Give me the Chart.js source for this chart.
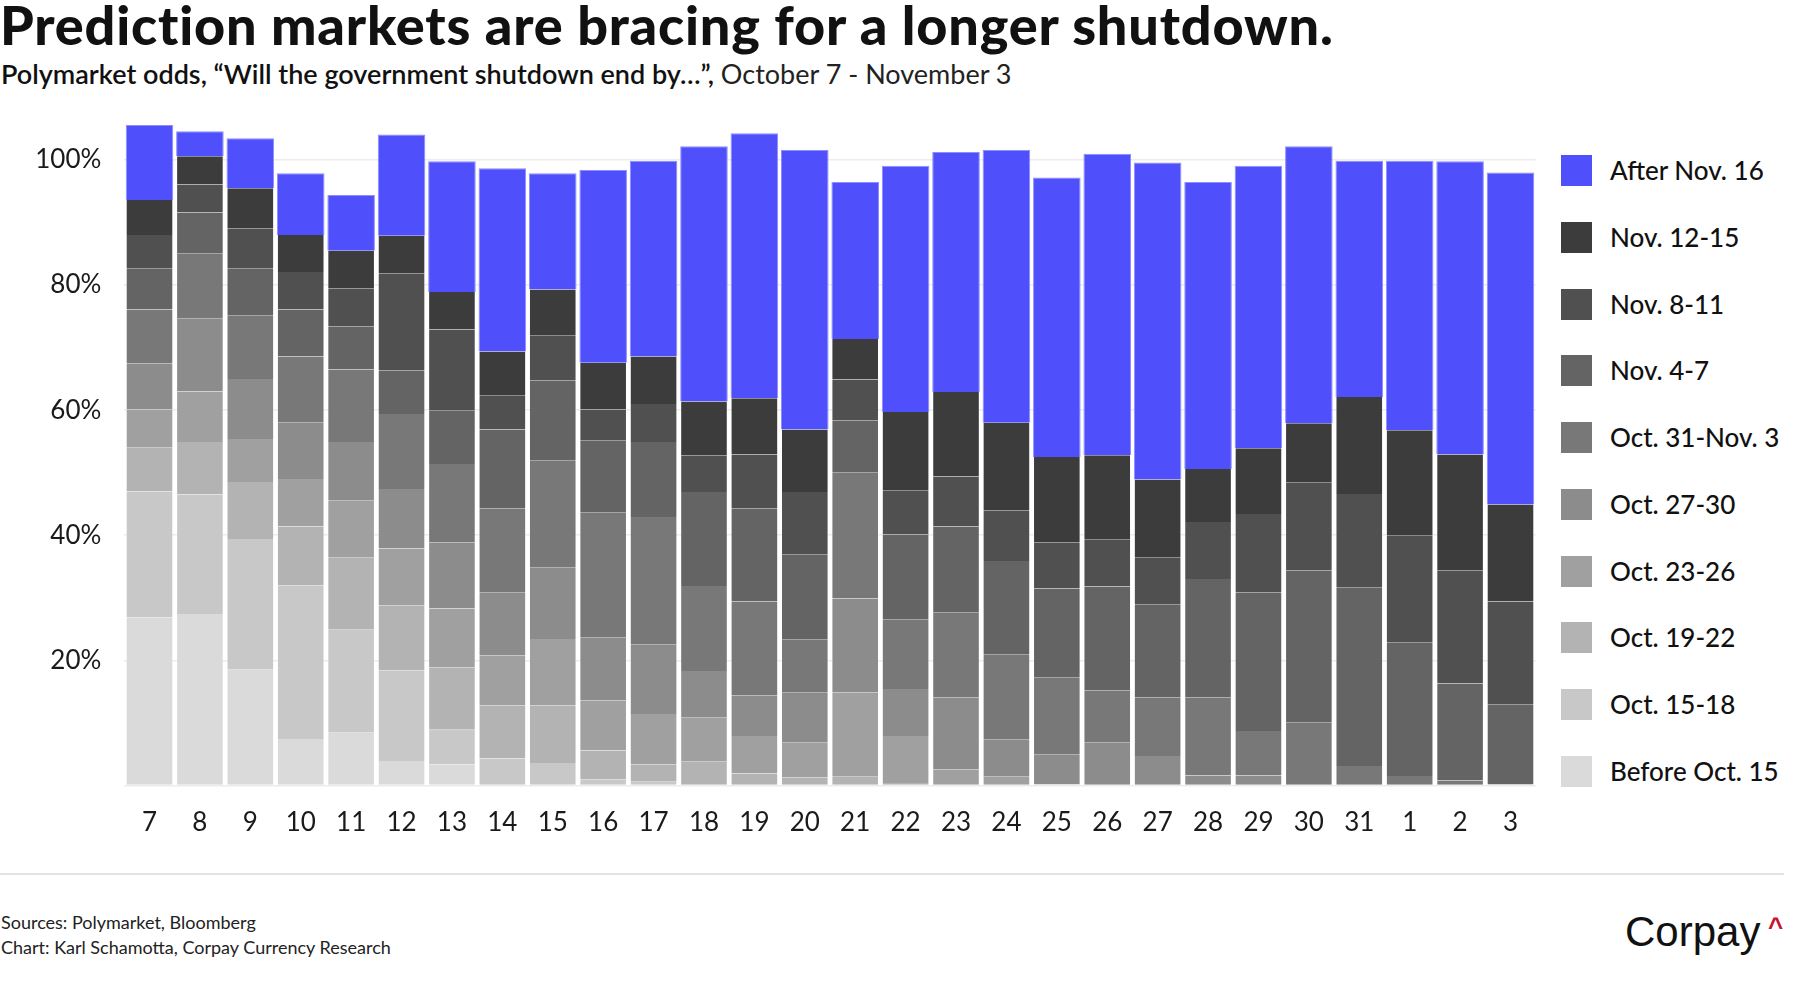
<!DOCTYPE html>
<html>
<head>
<meta charset="utf-8">
<script src="https://cdn.jsdelivr.net/npm/chart.js@4.4.1/dist/chart.umd.min.js"></script>
<style>
  html, body { margin: 0; padding: 0; background: #fff; }
  body { width: 1797px; height: 1000px; position: relative; overflow: hidden; font-family: Lato, "Noto Sans", sans-serif; color: #111; }
  #title { position: absolute; left: 0; top: -2px; font-size: 54px; line-height: 54px; font-weight: 900; letter-spacing: 0.8px; white-space: nowrap; color: #111; }
  #subtitle { position: absolute; left: 1px; top: 60px; font-size: 27px; line-height: 27px; white-space: nowrap; color: #222; }
  #subtitle b { font-weight: 600; color: #111; }
  #chartBox { position: absolute; left: 0; top: 100px; width: 1545px; height: 760px; }
  #legend { position: absolute; left: 1561px; top: 0; }
  .item { position: absolute; left: 0; height: 31px; white-space: nowrap; }
  .swatch { position: absolute; left: 0; top: 0; width: 31px; height: 31px; }
  .lab { position: absolute; left: 49px; top: 0; font-size: 26px; line-height: 31px; font-weight: 500; color: #111; }
  #rule { position: absolute; left: 0; top: 873px; width: 1784px; height: 2px; background: #e3e3e3; }
  #source { position: absolute; left: 1px; top: 910px; font-size: 18px; line-height: 25px; color: #222; }
  #logo { position: absolute; left: 1625px; top: 908px; font-family: "Liberation Sans", Arial, sans-serif; font-size: 42px; line-height: 48px; color: #111; white-space: nowrap; }
  #caret { position: absolute; left: 143px; top: 5.6px; font-size: 26px; line-height: 26px; font-weight: 700; color: #c8102e; }
</style>
</head>
<body>
<div id="title">Prediction markets are bracing for a longer shutdown.</div>
<div id="subtitle"><b>Polymarket odds, “Will the government shutdown end by…”,</b> October 7 - November 3</div>
<div id="chartBox"><canvas id="chart"></canvas></div>
<div id="legend"></div>
<div id="rule"></div>
<div id="source">Sources: Polymarket, Bloomberg<br>Chart: Karl Schamotta, Corpay Currency Research</div>
<div id="logo">Corpay<span id="caret">^</span></div>
<script>
// trading days, Oct 7 - Nov 3
const days = ['7','8','9','10','11','12','13','14','15','16','17','18','19','20','21','22','23','24','25','26','27','28','29','30','31','1','2','3'];

// odds (%) per resolution bucket
const beforeOct15 = [26.9,27.4,18.5,7.4,8.4,3.9,3.4,0,0,0,0,0,0,0,0,0,0,0,0,0,0,0,0,0,0,0,0,0];
const oct15to18   = [20.1,19.1,20.9,24.6,16.5,14.5,5.5,4.3,3.6,1.0,0.6,0,0,0,0,0,0,0,0,0,0,0,0,0,0,0,0,0];
const oct19to22   = [7.0,8.4,9.1,9.4,11.5,10.4,10.0,8.5,9.2,4.6,2.8,3.8,1.9,1.3,1.4,0.4,0,0,0,0,0,0,0,0,0,0,0,0];
const oct23to26   = [6.1,8.1,6.9,7.6,9.1,9.1,9.4,8.0,10.6,8.0,8.0,7.0,6.0,5.5,13.5,7.5,2.6,1.4,0.2,0,0,0,0,0,0,0,0,0];
const oct27to30   = [7.4,11.6,9.6,9.0,9.4,9.5,10.6,10.0,11.4,10.0,11.1,7.5,6.5,8.0,15.0,7.5,11.5,5.9,4.7,6.8,4.7,1.6,1.6,0,0,0,0,0];
const oct31toNov3 = [8.6,10.4,10.1,10.6,11.6,12.0,12.5,13.5,17.1,20.0,20.4,13.6,15.0,8.5,20.1,11.1,13.5,13.6,12.3,8.4,9.4,12.5,7.1,10.0,3.1,1.5,0.8,0.2];
const nov4to7     = [6.5,6.6,7.5,7.5,6.9,7.0,8.5,12.6,12.9,11.5,12.0,15.0,14.9,13.6,8.4,13.6,13.8,15.0,14.3,16.6,14.8,18.9,22.2,24.4,28.5,21.3,15.5,12.7];
const nov8to11    = [5.4,4.5,6.5,6.0,6.1,15.5,13.0,5.4,7.1,5.0,6.1,5.9,8.6,10.0,6.5,7.0,8.0,8.1,7.4,7.5,7.5,9.1,12.5,14.0,15.0,17.1,18.1,16.5];
const nov12to15   = [5.6,4.5,6.4,5.9,6.0,6.0,6.0,7.1,7.4,7.5,7.6,8.6,9.0,10.0,6.5,12.6,13.5,14.0,13.6,13.5,12.5,8.5,10.5,9.5,15.5,16.9,18.5,15.5];
const afterNov16  = [12.0,4.0,8.0,9.9,8.9,16.2,20.9,29.3,18.6,30.8,31.3,40.8,42.4,44.7,25.1,39.4,38.4,43.6,44.7,48.2,50.7,45.9,45.2,44.3,37.8,43.1,46.9,53.1];

const seriesNames = ['Before Oct. 15','Oct. 15-18','Oct. 19-22','Oct. 23-26','Oct. 27-30','Oct. 31-Nov. 3','Nov. 4-7','Nov. 8-11','Nov. 12-15','After Nov. 16'];
const seriesValues = [beforeOct15, oct15to18, oct19to22, oct23to26, oct27to30, oct31toNov3, nov4to7, nov8to11, nov12to15, afterNov16];
const seriesColors = ['#dadada','#c8c8c8','#b3b3b3','#a0a0a0','#8c8c8c','#787878','#646464','#505050','#3c3c3c','#4f4ffc'];
const yTicks = [0, 20, 40, 60, 80, 100];

const last = seriesNames.length - 1;
const datasets = seriesNames.map((name, i) => ({
  label: name,
  data: seriesValues[i],
  backgroundColor: seriesColors[i],
  borderColor: i === last ? '#8d8dff' : 'rgba(255,255,255,0.3)',
  borderWidth: i === last ? {top: 1, left: 1, right: 1, bottom: 0} : {top: 0, left: 1, right: 1, bottom: 0},
  borderSkipped: false,
  barPercentage: 0.944,
  categoryPercentage: 1.0
}));

const tickFont = {family: 'Lato', size: 26, weight: '400'};

// keep the axes from reserving extra room for edge labels
function noEdgePad(s) {
  s.paddingTop = 0; s.paddingBottom = 0; s.paddingLeft = 0; s.paddingRight = 0;
}

const chart = new Chart(document.getElementById('chart'), {
  type: 'bar',
  data: {labels: days, datasets: datasets},
  options: {
    responsive: true,
    maintainAspectRatio: false,
    animation: false,
    layout: {padding: {top: 22.5, right: 9.3, bottom: 14.6, left: 0}},
    plugins: {legend: {display: false}, tooltip: {enabled: false}},
    scales: {
      x: {
        stacked: true,
        grid: {display: false, drawTicks: false},
        border: {display: false},
        ticks: {font: tickFont, color: '#1a1a1a', padding: 22, maxRotation: 0, autoSkip: false},
        afterFit: s => { s.height = 60; noEdgePad(s); }
      },
      y: {
        stacked: true,
        min: 0,
        max: 106,
        afterBuildTicks: a => { a.ticks = yTicks.map(v => ({value: v})); },
        grid: {color: '#ececec', lineWidth: 1.5, drawTicks: false},
        border: {display: false},
        ticks: {font: tickFont, color: '#1a1a1a', padding: 23, callback: v => v === 0 ? '' : v + '%'},
        afterFit: s => { s.width = 124.3; noEdgePad(s); }
      }
    }
  }
});

// legend, top entry first
const legend = document.getElementById('legend');
for (let k = 0; k <= last; k++) {
  const i = last - k;
  const item = document.createElement('div');
  item.className = 'item';
  item.style.top = (170.8 + k * 66.7 - 15.5) + 'px';
  item.innerHTML = '<div class="swatch" style="background:' + seriesColors[i] + '"></div><div class="lab">' + seriesNames[i] + '</div>';
  legend.appendChild(item);
}
</script>
</body>
</html>
